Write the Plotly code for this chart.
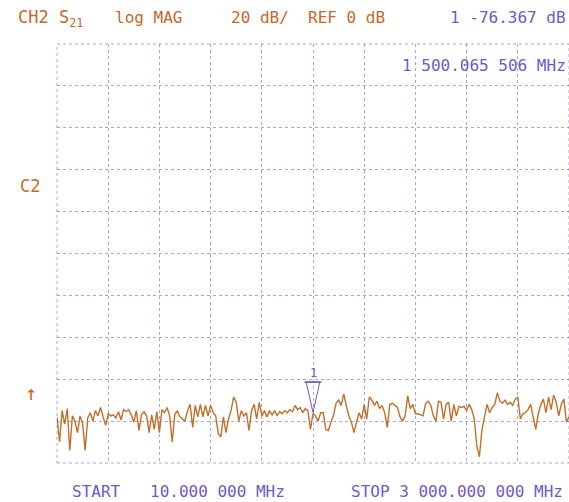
import plotly.graph_objects as go

# ---- data -------------------------------------------------------------
start_mhz = 10.0
stop_mhz = 3000.0
ref_db = 0.0
scale_db = 20.0
n_div = 10

s21_db = [
    -78, -90, -75, -81.5, -74, -94, -77.5, -80, -85.5, -77.5,
    -81, -94, -78.5, -76, -80, -75, -77.5, -73.5, -78, -82,
    -76.5, -77.5, -77, -78.5, -75.5, -79.5, -74.5, -75.5, -74.5, -77,
    -80.5, -75, -84.5, -77, -75.5, -77.5, -85.5, -77, -84, -75.5,
    -85.5, -74.5, -76, -73.5, -77.5, -90, -77, -75, -78, -79,
    -80, -75, -72, -83, -72.5, -78, -72, -78, -72.5, -77.5,
    -72.5, -76, -77.5, -86, -87.5, -78, -85.5, -79, -75, -68.5,
    -71, -80, -75, -77.5, -76, -84.5, -75, -72, -79, -71,
    -77.5, -75, -78, -75, -77, -75, -77.5, -75.5, -76.5, -75,
    -76, -74.5, -75.5, -72.5, -74.5, -73.5, -76, -74, -75, -84,
    -76.367, -77.5, -80, -76, -76, -84, -84.5, -80.5, -77.5, -71.5,
    -70, -72.5, -67, -72.5, -77.5, -80.5, -85.5, -80.5, -76, -79,
    -72, -79, -68.5, -70, -72.5, -70.5, -74, -72.5, -76, -83,
    -72, -71.5, -72.5, -73.5, -78, -80, -77.5, -68, -74, -72,
    -76.5, -76.5, -77, -77.5, -71.5, -70.5, -72.5, -77.5, -80, -70.5,
    -71, -79, -72, -71, -80, -72, -77.5, -73, -73.5, -73,
    -75, -72, -74.5, -79, -92, -97, -84, -78, -72, -76,
    -73.5, -72, -66.5, -70.5, -71.5, -70, -72, -71, -72.5, -69.5,
    -68.5, -79, -76.5, -76, -74.5, -72, -78, -84, -76.5, -72,
    -69.5, -76, -68.5, -74.5, -67.5, -71, -77.5, -72, -69.5, -80.5,
    -78,
]
marker_index = 100
marker_freq_mhz = 1500.065506
marker_value_db = -76.367

n_pts = len(s21_db)
freq_mhz = [start_mhz + i * (stop_mhz - start_mhz) / (n_pts - 1) for i in range(n_pts)]

# ---- style ------------------------------------------------------------
ORANGE = "rgb(198,104,42)"
TRACE = "rgb(192,112,40)"
PURPLE = "rgb(112,90,196)"
GRID = "rgba(120,100,185,0.6)"
FONT = "DejaVu Sans Mono"

W, H = 569, 502
L, R, T, B = 57, 0, 44, 39
PW, PH = W - L - R, H - T - B


def px(x):
    return (x - L) / PW


def py(y):
    return (H - B - y) / PH


y_top = ref_db + scale_db * n_div / 2
y_bot = ref_db - scale_db * n_div / 2

fig = go.Figure()
fig.add_trace(go.Scatter(
    x=freq_mhz, y=s21_db, mode="lines",
    line=dict(color=TRACE, width=1.4), hoverinfo="skip", showlegend=False,
))

# marker triangle (outline) above the marker point
mx = freq_mhz[marker_index]
my = marker_value_db
half_w = 40.0   # MHz half width of triangle
tri_h = 14.5    # dB height of triangle
bar_w = 50.0    # MHz half width of bar
fig.add_trace(go.Scatter(
    x=[mx, mx - half_w, mx + half_w, mx],
    y=[my + 0.5, my + 0.5 + tri_h, my + 0.5 + tri_h, my + 0.5],
    mode="lines", line=dict(color=PURPLE, width=1), hoverinfo="skip", showlegend=False,
))
fig.add_trace(go.Scatter(
    x=[mx - bar_w, mx + bar_w], y=[my + 0.5 + tri_h, my + 0.5 + tri_h],
    mode="lines", line=dict(color=PURPLE, width=1.5), hoverinfo="skip", showlegend=False,
))

fig.update_xaxes(
    range=[start_mhz, stop_mhz], tick0=start_mhz, dtick=(stop_mhz - start_mhz) / n_div,
    showticklabels=False, ticks="", showgrid=True, gridcolor=GRID, griddash="dot",
    gridwidth=1, zeroline=False, showline=False,
)
fig.update_yaxes(
    range=[y_bot, y_top], tick0=y_bot, dtick=scale_db,
    showticklabels=False, ticks="", showgrid=True, gridcolor=GRID, griddash="dot",
    gridwidth=1, zeroline=False, showline=False,
)

fig.add_shape(type="rect", xref="paper", yref="paper", x0=0, x1=1, y0=0, y1=1,
              line=dict(color=GRID, width=1, dash="dot"))


def txt(text, x, y, color, xanchor="left", size=16):
    fig.add_annotation(text=text, xref="paper", yref="paper", x=px(x), y=py(y),
                       xanchor=xanchor, yanchor="middle", showarrow=False,
                       font=dict(family=FONT, size=size, color=color))


txt("CH2 S<sub>21</sub>", 16, 19, ORANGE, size=17)
txt("log MAG", 113, 17, ORANGE)
txt("20 dB/", 229, 17, ORANGE)
txt("REF 0 dB", 306, 17, ORANGE)
txt("1 %.3f dB" % marker_value_db, 568, 17, PURPLE, xanchor="right")
txt("1 500.065 506 MHz", 568, 65, PURPLE, xanchor="right")
txt("C2", 18, 186, ORANGE, size=17)
txt("↑", 31, 393, ORANGE, xanchor="center", size=20)
txt("1", 313, 373, PURPLE, xanchor="center", size=12)
txt("START", 70, 491, PURPLE)
txt("10.000 000 MHz", 148, 491, PURPLE)
txt("STOP 3 000.000 000 MHz", 565, 491, PURPLE, xanchor="right")

fig.update_layout(
    width=W, height=H, margin=dict(l=L, r=R, t=T, b=B),
    paper_bgcolor="white", plot_bgcolor="white", showlegend=False,
)

fig.write_html("out.html")
